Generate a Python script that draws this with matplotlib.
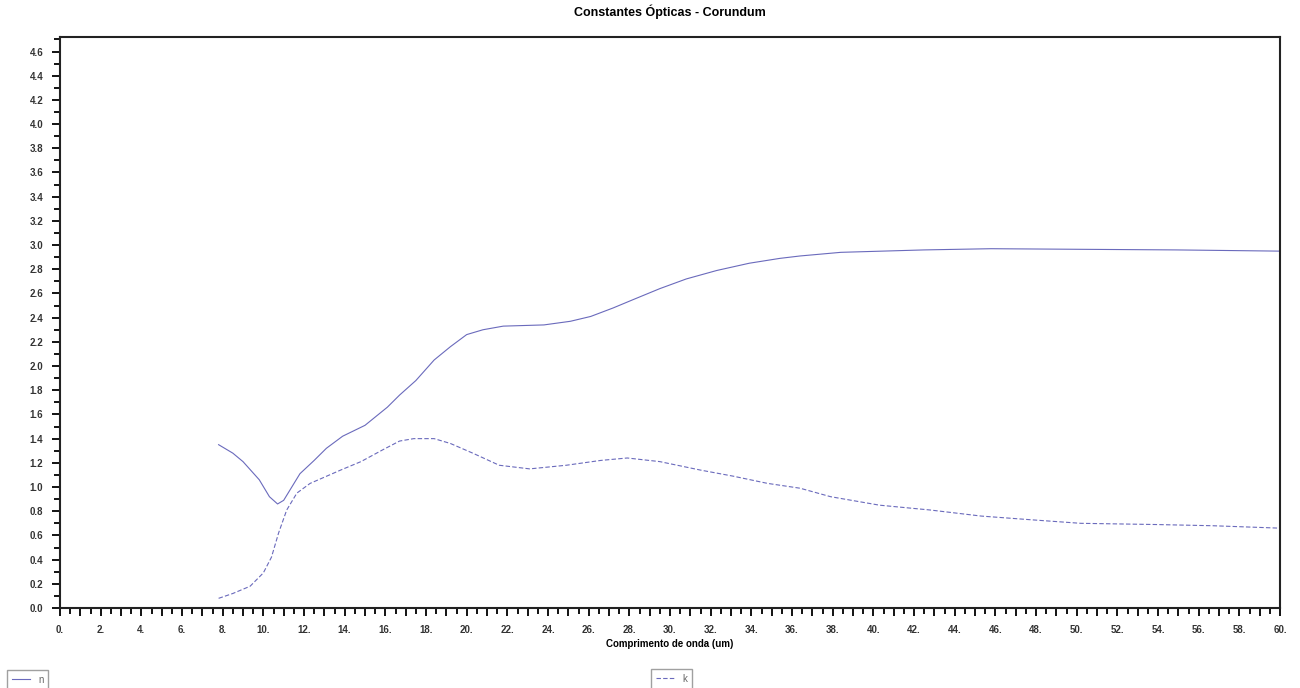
import numpy as np
import matplotlib
matplotlib.use("Agg")
import matplotlib.pyplot as plt
from matplotlib.ticker import MultipleLocator, FuncFormatter

plt.rcParams['font.family'] = ['Liberation Sans', 'DejaVu Sans']

# dados
x_n = [7.8, 8.5, 9.0, 9.8, 10.3, 10.7, 11.0, 11.4, 11.8, 12.5, 13.1, 13.9, 15.0,
       16.1, 16.7, 17.5, 18.4, 19.2, 20.0, 20.8, 21.8, 23.8, 25.1, 26.1, 27.2,
       28.2, 29.5, 30.8, 32.3, 33.9, 35.4, 36.4, 38.4, 42.5, 45.8, 50.2, 54.9, 60.0]
n = [1.35, 1.28, 1.21, 1.06, 0.92, 0.86, 0.89, 1.00, 1.11, 1.22, 1.32, 1.42, 1.51,
     1.66, 1.76, 1.88, 2.05, 2.16, 2.26, 2.30, 2.33, 2.34, 2.37, 2.41, 2.48,
     2.55, 2.64, 2.72, 2.79, 2.85, 2.89, 2.91, 2.94, 2.96, 2.97, 2.965, 2.96, 2.95]

x_k = [7.8, 8.5, 9.35, 10.0, 10.4, 10.75, 11.15, 11.65, 12.3, 13.8, 14.8, 15.9,
       16.7, 17.4, 18.4, 19.2, 20.3, 21.6, 23.1, 24.9, 26.6, 27.9, 29.5, 31.5,
       33.1, 34.8, 36.4, 37.9, 40.3, 42.8, 45.3, 47.7, 50.2, 53.9, 56.7, 60.0]
k = [0.08, 0.12, 0.18, 0.29, 0.42, 0.62, 0.81, 0.95, 1.03, 1.14, 1.21, 1.31,
     1.38, 1.40, 1.40, 1.36, 1.28, 1.18, 1.15, 1.18, 1.22, 1.24, 1.21, 1.14,
     1.09, 1.03, 0.99, 0.92, 0.85, 0.81, 0.76, 0.73, 0.70, 0.69, 0.68, 0.66]

cor = '#6a6abc'

fig = plt.figure(figsize=(13, 6.88), dpi=100)
ax = fig.add_axes([60/1300, 1-608/688, 1220/1300, 571/688])

ln_n, = ax.plot(x_n, n, color=cor, lw=0.8, ls='-')
ln_k, = ax.plot(x_k, k, color=cor, lw=0.8, ls=(0, (4, 2)))

ax.set_xlim(0, 60)
ax.set_ylim(0, 4.72)

ax.xaxis.set_major_locator(MultipleLocator(1))
ax.xaxis.set_minor_locator(MultipleLocator(0.5))
ax.xaxis.set_major_formatter(FuncFormatter(lambda v, p: f"{int(round(v))}." if int(round(v)) % 2 == 0 else ""))
ax.yaxis.set_major_locator(MultipleLocator(0.2))
ax.yaxis.set_minor_locator(MultipleLocator(0.1))
ax.yaxis.set_major_formatter(FuncFormatter(lambda v, p: f"{v:.1f}"))

ax.tick_params(axis='both', which='major', direction='out', length=6, width=1.3,
               labelsize=7, labelcolor='#333333', pad=6)
ax.tick_params(axis='both', which='minor', direction='out', length=4, width=1.3)
for lab in ax.get_xticklabels() + ax.get_yticklabels():
    lab.set_fontweight('bold')

for s in ax.spines.values():
    s.set_linewidth(1.5)
    s.set_color('#222222')

ax.set_title('Constantes Ópticas - Corundum', fontsize=9, fontweight='bold', pad=15)
ax.set_xlabel('Comprimento de onda (um)', fontsize=7, fontweight='bold', labelpad=3)

# legendas separadas, como no original
estilo = dict(loc='upper left', fontsize=7, frameon=True, fancybox=False,
              edgecolor='#888888', handlelength=1.9, borderpad=0.5,
              handletextpad=0.8, borderaxespad=0)
leg1 = fig.legend(handles=[ln_n], labels=['n'],
                  bbox_to_anchor=(7/1300, 1-670/688), **estilo)
leg2 = fig.legend(handles=[ln_k], labels=['k'],
                  bbox_to_anchor=(651/1300, 1-669/688), **estilo)
for t in leg1.get_texts() + leg2.get_texts():
    t.set_color('#666666')

fig.savefig('out.png', dpi=100)
